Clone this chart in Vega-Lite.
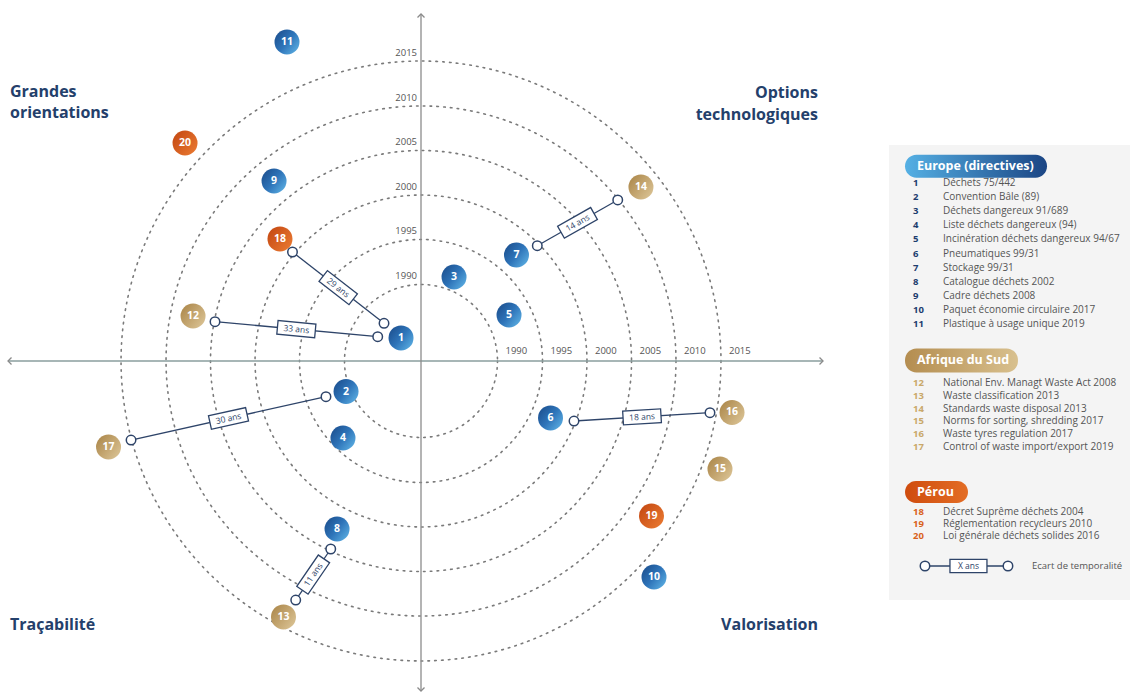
{
  "$schema": "https://vega.github.io/schema/vega-lite/v6.json",
  "width": 1130,
  "height": 693,
  "autosize": {"type": "none"},
  "padding": 0,
  "background": "white",
  "config": {
    "view": {"stroke": null},
    "font": "Open Sans",
    "axis": {"disable": true},
    "legend": {"disable": true}
  },
  "datasets": {
    "items": [
      {"n": 1, "g": "EU", "label": "Déchets 75/442", "x": -2.22, "y": 2.56},
      {"n": 2, "g": "EU", "label": "Convention Bâle (89)", "x": -8.33, "y": -3.39},
      {"n": 3, "g": "EU", "label": "Déchets dangereux 91/689", "x": 3.67, "y": 9.33},
      {"n": 4, "g": "EU", "label": "Liste déchets dangereux (94)", "x": -8.67, "y": -8.56},
      {"n": 5, "g": "EU", "label": "Incinération déchets dangereux 94/67", "x": 9.78, "y": 5.11},
      {"n": 6, "g": "EU", "label": "Pneumatiques 99/31", "x": 14.39, "y": -6.33},
      {"n": 7, "g": "EU", "label": "Stockage 99/31", "x": 10.61, "y": 11.78},
      {"n": 8, "g": "EU", "label": "Catalogue déchets 2002", "x": -9.33, "y": -18.67},
      {"n": 9, "g": "EU", "label": "Cadre déchets 2008", "x": -16.33, "y": 20.0},
      {"n": 10, "g": "EU", "label": "Paquet économie circulaire 2017", "x": 25.89, "y": -24.0},
      {"n": 11, "g": "EU", "label": "Plastique à usage unique 2019", "x": -14.89, "y": 35.44},
      {"n": 12, "g": "ZA", "label": "National Env. Managt Waste Act 2008", "x": -25.33, "y": 5.0},
      {"n": 13, "g": "ZA", "label": "Waste classification 2013", "x": -15.28, "y": -28.44},
      {"n": 14, "g": "ZA", "label": "Standards waste disposal 2013", "x": 24.44, "y": 19.33},
      {"n": 15, "g": "ZA", "label": "Norms for sorting, shredding 2017", "x": 33.22, "y": -12.0},
      {"n": 16, "g": "ZA", "label": "Waste tyres regulation 2017", "x": 34.56, "y": -5.72},
      {"n": 17, "g": "ZA", "label": "Control of waste import/export 2019", "x": -34.72, "y": -9.56},
      {"n": 18, "g": "PE", "label": "Décret Suprême déchets 2004", "x": -15.67, "y": 13.56},
      {"n": 19, "g": "PE", "label": "Réglementation recycleurs 2010", "x": 25.61, "y": -17.22},
      {"n": 20, "g": "PE", "label": "Loi générale déchets solides 2016", "x": -26.22, "y": 24.22}
    ],
    "links": [
      {"gap": "29 ans", "from": 18, "to": 1, "x1": -14.28, "y1": 12.11, "x2": -4.11, "y2": 4.19, "mx": -9.2, "my": 8.15, "angle": 37.9},
      {"gap": "33 ans", "from": 12, "to": 1, "x1": -22.89, "y1": 4.37, "x2": -4.81, "y2": 2.7, "mx": -13.85, "my": 3.54, "angle": 5.3},
      {"gap": "30 ans", "from": 17, "to": 2, "x1": -32.22, "y1": -8.78, "x2": -10.56, "y2": -3.97, "mx": -21.39, "my": -6.38, "angle": -12.5},
      {"gap": "11 ans", "from": 13, "to": 8, "x1": -13.92, "y1": -26.56, "x2": -10.03, "y2": -20.89, "mx": -11.98, "my": -23.73, "angle": -55.5},
      {"gap": "14 ans", "from": 7, "to": 14, "x1": 12.92, "y1": 12.81, "x2": 21.86, "y2": 17.89, "mx": 17.39, "my": 15.35, "angle": -29.6},
      {"gap": "18 ans", "from": 6, "to": 16, "x1": 17.0, "y1": -6.67, "x2": 32.11, "y2": -5.74, "mx": 24.56, "my": -6.21, "angle": -3.5}
    ],
    "rings": [
      {"year": 1990, "r": 8.5},
      {"year": 1995, "r": 13.5},
      {"year": 2000, "r": 18.44},
      {"year": 2005, "r": 23.39},
      {"year": 2010, "r": 28.33},
      {"year": 2015, "r": 33.33}
    ],
    "arrows": [
      {"dir": "right", "x": 44.67, "y": 0},
      {"dir": "left", "x": -45.89, "y": 0},
      {"dir": "up", "x": 0, "y": 38.56},
      {"dir": "down", "x": 0, "y": -36.67}
    ]
  },
  "resolve": {"scale": {"y": "independent"}},
  "layer": [
    {
      "layer": [
        {
          "data": {"values": [{"panel": "legend"}]},
          "mark": {"type": "rect", "fill": "#f4f4f4"},
          "encoding": {
            "x": {"datum": 52.0, "type": "quantitative", "scale": {"domain": [-46.78, 78.78], "nice": false, "zero": false}},
            "x2": {"datum": 78.78},
            "y": {"datum": 24.0, "type": "quantitative", "scale": {"domain": [-36.89, 40.11], "nice": false, "zero": false}},
            "y2": {"datum": -26.56}
          }
        },
        {
          "data": {"name": "rings"},
          "mark": {"type": "point", "shape": "circle", "filled": false, "stroke": "#7a7a7a", "strokeWidth": 1.6, "strokeDash": [1.6, 5.2], "strokeCap": "round", "opacity": 1},
          "encoding": {
            "x": {"datum": 0, "type": "quantitative", "scale": {"domain": [-46.78, 78.78], "nice": false, "zero": false}},
            "y": {"datum": 0, "type": "quantitative", "scale": {"domain": [-36.89, 40.11], "nice": false, "zero": false}},
            "size": {"field": "r", "type": "quantitative", "scale": {"type": "pow", "exponent": 2, "domain": [0, 10], "range": [0, 32400]}, "legend": null}
          }
        },
        {
          "data": {"values": [{"axis": "horizontal"}]},
          "mark": {"type": "rule", "stroke": "#8a9e9e", "strokeWidth": 1.3},
          "encoding": {
            "x": {"datum": -45.89, "type": "quantitative", "scale": {"domain": [-46.78, 78.78], "nice": false, "zero": false}},
            "x2": {"datum": 44.67},
            "y": {"datum": 0, "type": "quantitative", "scale": {"domain": [-36.89, 40.11], "nice": false, "zero": false}}
          }
        },
        {
          "data": {"values": [{"axis": "vertical"}]},
          "mark": {"type": "rule", "stroke": "#8c8c8c", "strokeWidth": 1.3},
          "encoding": {
            "x": {"datum": 0, "type": "quantitative", "scale": {"domain": [-46.78, 78.78], "nice": false, "zero": false}},
            "y": {"datum": 38.56, "type": "quantitative", "scale": {"domain": [-36.89, 40.11], "nice": false, "zero": false}},
            "y2": {"datum": -36.67}
          }
        },
        {
          "data": {"name": "arrows"},
          "mark": {"type": "point", "filled": false, "stroke": "#8a8a8a", "strokeWidth": 1.3, "size": 49, "opacity": 1},
          "encoding": {
            "x": {"field": "x", "type": "quantitative", "scale": {"domain": [-46.78, 78.78], "nice": false, "zero": false}},
            "y": {"field": "y", "type": "quantitative", "scale": {"domain": [-36.89, 40.11], "nice": false, "zero": false}},
            "shape": {"field": "dir", "type": "nominal", "scale": {"domain": ["right", "left", "up", "down"], "range": ["M-1,-1L0,0L-1,1", "M1,-1L0,0L1,1", "M-1,1L0,0L1,1", "M-1,-1L0,0L1,-1"]}, "legend": null}
          }
        },
        {
          "data": {"name": "links"},
          "mark": {"type": "rule", "stroke": "#2e4469", "strokeWidth": 1.3},
          "encoding": {
            "x": {"field": "x1", "type": "quantitative", "scale": {"domain": [-46.78, 78.78], "nice": false, "zero": false}},
            "y": {"field": "y1", "type": "quantitative", "scale": {"domain": [-36.89, 40.11], "nice": false, "zero": false}},
            "x2": {"field": "x2"},
            "y2": {"field": "y2"}
          }
        },
        {
          "data": {"name": "links"},
          "mark": {"type": "point", "shape": "circle", "filled": true, "fill": "white", "stroke": "#2e4469", "strokeWidth": 1.5, "size": 90, "opacity": 1},
          "encoding": {
            "x": {"field": "x1", "type": "quantitative", "scale": {"domain": [-46.78, 78.78], "nice": false, "zero": false}},
            "y": {"field": "y1", "type": "quantitative", "scale": {"domain": [-36.89, 40.11], "nice": false, "zero": false}}
          }
        },
        {
          "data": {"name": "links"},
          "mark": {"type": "point", "shape": "circle", "filled": true, "fill": "white", "stroke": "#2e4469", "strokeWidth": 1.5, "size": 90, "opacity": 1},
          "encoding": {
            "x": {"field": "x2", "type": "quantitative", "scale": {"domain": [-46.78, 78.78], "nice": false, "zero": false}},
            "y": {"field": "y2", "type": "quantitative", "scale": {"domain": [-36.89, 40.11], "nice": false, "zero": false}}
          }
        },
        {
          "data": {"name": "links"},
          "mark": {"type": "point", "shape": "M-1,-0.36L1,-0.36L1,0.36L-1,0.36Z", "filled": true, "fill": "white", "stroke": "#2e4469", "strokeWidth": 1.3, "size": 1444, "opacity": 1},
          "encoding": {
            "x": {"field": "mx", "type": "quantitative", "scale": {"domain": [-46.78, 78.78], "nice": false, "zero": false}},
            "y": {"field": "my", "type": "quantitative", "scale": {"domain": [-36.89, 40.11], "nice": false, "zero": false}},
            "angle": {"field": "angle", "type": "quantitative", "scale": null}
          }
        },
        {
          "data": {"name": "links"},
          "mark": {"type": "text", "fontSize": 8.5, "fill": "#2e4469", "align": "center", "baseline": "middle"},
          "encoding": {
            "x": {"field": "mx", "type": "quantitative", "scale": {"domain": [-46.78, 78.78], "nice": false, "zero": false}},
            "y": {"field": "my", "type": "quantitative", "scale": {"domain": [-36.89, 40.11], "nice": false, "zero": false}},
            "angle": {"field": "angle", "type": "quantitative", "scale": null},
            "text": {"field": "gap", "type": "nominal"}
          }
        },
        {
          "data": {"name": "items"},
          "transform": [{"filter": "datum.g === 'EU'"}],
          "mark": {"type": "point", "shape": "circle", "filled": true, "size": 625, "opacity": 1, "strokeWidth": 0,
            "fill": {"gradient": "linear", "x1": 0, "y1": 0.1, "x2": 1, "y2": 0.9, "stops": [{"offset": 0, "color": "#1b4d8c"}, {"offset": 0.5, "color": "#2e74b9"}, {"offset": 1, "color": "#5fb3e5"}]}},
          "encoding": {
            "x": {"field": "x", "type": "quantitative", "scale": {"domain": [-46.78, 78.78], "nice": false, "zero": false}},
            "y": {"field": "y", "type": "quantitative", "scale": {"domain": [-36.89, 40.11], "nice": false, "zero": false}}
          }
        },
        {
          "data": {"name": "items"},
          "transform": [{"filter": "datum.g === 'ZA'"}],
          "mark": {"type": "point", "shape": "circle", "filled": true, "size": 625, "opacity": 1, "strokeWidth": 0,
            "fill": {"gradient": "linear", "x1": 0, "y1": 0.1, "x2": 1, "y2": 0.9, "stops": [{"offset": 0, "color": "#ab8649"}, {"offset": 1, "color": "#dcc597"}]}},
          "encoding": {
            "x": {"field": "x", "type": "quantitative", "scale": {"domain": [-46.78, 78.78], "nice": false, "zero": false}},
            "y": {"field": "y", "type": "quantitative", "scale": {"domain": [-36.89, 40.11], "nice": false, "zero": false}}
          }
        },
        {
          "data": {"name": "items"},
          "transform": [{"filter": "datum.g === 'PE'"}],
          "mark": {"type": "point", "shape": "circle", "filled": true, "size": 625, "opacity": 1, "strokeWidth": 0,
            "fill": {"gradient": "linear", "x1": 0, "y1": 0.1, "x2": 1, "y2": 0.9, "stops": [{"offset": 0, "color": "#c44812"}, {"offset": 1, "color": "#ea7a32"}]}},
          "encoding": {
            "x": {"field": "x", "type": "quantitative", "scale": {"domain": [-46.78, 78.78], "nice": false, "zero": false}},
            "y": {"field": "y", "type": "quantitative", "scale": {"domain": [-36.89, 40.11], "nice": false, "zero": false}}
          }
        },
        {
          "data": {"name": "items"},
          "mark": {"type": "text", "fontSize": 10.5, "fontWeight": "bold", "fill": "white", "align": "center", "baseline": "middle"},
          "encoding": {
            "x": {"field": "x", "type": "quantitative", "scale": {"domain": [-46.78, 78.78], "nice": false, "zero": false}},
            "y": {"field": "y", "type": "quantitative", "scale": {"domain": [-36.89, 40.11], "nice": false, "zero": false}},
            "text": {"field": "n", "type": "nominal"}
          }
        },
        {
          "data": {"name": "rings"},
          "mark": {"type": "text", "fontSize": 9.5, "fill": "#555555", "align": "right", "baseline": "bottom", "dx": -4, "dy": -3},
          "encoding": {
            "x": {"datum": 0, "type": "quantitative", "scale": {"domain": [-46.78, 78.78], "nice": false, "zero": false}},
            "y": {"field": "r", "type": "quantitative", "scale": {"domain": [-36.89, 40.11], "nice": false, "zero": false}},
            "text": {"field": "year", "type": "nominal"}
          }
        },
        {
          "data": {"name": "rings"},
          "mark": {"type": "text", "fontSize": 9.5, "fill": "#555555", "align": "left", "baseline": "bottom", "dx": 8, "dy": -5},
          "encoding": {
            "x": {"field": "r", "type": "quantitative", "scale": {"domain": [-46.78, 78.78], "nice": false, "zero": false}},
            "y": {"datum": 0, "type": "quantitative", "scale": {"domain": [-36.89, 40.11], "nice": false, "zero": false}},
            "text": {"field": "year", "type": "nominal"}
          }
        },
        {
          "data": {"values": [{"label": ["Grandes", "orientations"]}]},
          "mark": {"type": "text", "fontSize": 16, "fontWeight": "bold", "fill": "#24406b", "align": "left", "baseline": "middle", "lineHeight": 21},
          "encoding": {
            "x": {"datum": -45.67, "type": "quantitative", "scale": {"domain": [-46.78, 78.78], "nice": false, "zero": false}},
            "y": {"datum": 29.89, "type": "quantitative", "scale": {"domain": [-36.89, 40.11], "nice": false, "zero": false}},
            "text": {"field": "label"}
          }
        },
        {
          "data": {"values": [{"label": ["Options", "technologiques"]}]},
          "mark": {"type": "text", "fontSize": 16, "fontWeight": "bold", "fill": "#24406b", "align": "right", "baseline": "middle", "lineHeight": 22},
          "encoding": {
            "x": {"datum": 44.11, "type": "quantitative", "scale": {"domain": [-46.78, 78.78], "nice": false, "zero": false}},
            "y": {"datum": 29.78, "type": "quantitative", "scale": {"domain": [-36.89, 40.11], "nice": false, "zero": false}},
            "text": {"field": "label"}
          }
        },
        {
          "data": {"values": [{"label": "Traçabilité"}]},
          "mark": {"type": "text", "fontSize": 16, "fontWeight": "bold", "fill": "#24406b", "align": "left", "baseline": "middle"},
          "encoding": {
            "x": {"datum": -45.67, "type": "quantitative", "scale": {"domain": [-46.78, 78.78], "nice": false, "zero": false}},
            "y": {"datum": -29.33, "type": "quantitative", "scale": {"domain": [-36.89, 40.11], "nice": false, "zero": false}},
            "text": {"field": "label"}
          }
        },
        {
          "data": {"values": [{"label": "Valorisation"}]},
          "mark": {"type": "text", "fontSize": 16, "fontWeight": "bold", "fill": "#24406b", "align": "right", "baseline": "middle"},
          "encoding": {
            "x": {"datum": 44.11, "type": "quantitative", "scale": {"domain": [-46.78, 78.78], "nice": false, "zero": false}},
            "y": {"datum": -29.33, "type": "quantitative", "scale": {"domain": [-36.89, 40.11], "nice": false, "zero": false}},
            "text": {"field": "label"}
          }
        }
      ]
    },
    {
      "layer": [
        {
          "data": {"values": [{"group": "Europe (directives)"}]},
          "mark": {"type": "rect", "cornerRadius": 11.5,
            "fill": {"gradient": "linear", "x1": 0, "y1": 0, "x2": 1, "y2": 0, "stops": [{"offset": 0, "color": "#55b0e4"}, {"offset": 1, "color": "#1b4584"}]}},
          "encoding": {
            "x": {"datum": 53.78, "type": "quantitative", "scale": {"domain": [-46.78, 78.78], "nice": false, "zero": false}},
            "x2": {"datum": 69.56},
            "y": {"datum": -1.0, "type": "quantitative", "scale": {"domain": [1, 11], "range": [183, 324], "nice": false, "zero": false}},
            "y2": {"datum": 0.62}
          }
        },
        {
          "data": {"values": [{"group": "Europe (directives)"}]},
          "mark": {"type": "text", "fontSize": 12.5, "fontWeight": "bold", "fill": "white", "align": "left", "baseline": "middle"},
          "encoding": {
            "x": {"datum": 55.11, "type": "quantitative", "scale": {"domain": [-46.78, 78.78], "nice": false, "zero": false}},
            "y": {"datum": -0.2, "type": "quantitative", "scale": {"domain": [1, 11], "range": [183, 324], "nice": false, "zero": false}},
            "text": {"field": "group"}
          }
        },
        {
          "data": {"name": "items"},
          "transform": [{"filter": "datum.g === 'EU'"}],
          "mark": {"type": "text", "fontSize": 9.5, "fontWeight": "bold", "fill": "#1d3d6e", "align": "left", "baseline": "middle"},
          "encoding": {
            "x": {"datum": 54.67, "type": "quantitative", "scale": {"domain": [-46.78, 78.78], "nice": false, "zero": false}},
            "y": {"field": "n", "type": "quantitative", "scale": {"domain": [1, 11], "range": [183, 324], "nice": false, "zero": false}},
            "text": {"field": "n", "type": "nominal"}
          }
        },
        {
          "data": {"name": "items"},
          "transform": [{"filter": "datum.g === 'EU'"}],
          "mark": {"type": "text", "fontSize": 10, "fill": "#555555", "align": "left", "baseline": "middle"},
          "encoding": {
            "x": {"datum": 58.0, "type": "quantitative", "scale": {"domain": [-46.78, 78.78], "nice": false, "zero": false}},
            "y": {"field": "n", "type": "quantitative", "scale": {"domain": [1, 11], "range": [183, 324], "nice": false, "zero": false}},
            "text": {"field": "label", "type": "nominal"}
          }
        }
      ]
    },
    {
      "layer": [
        {
          "data": {"values": [{"group": "Afrique du Sud"}]},
          "mark": {"type": "rect", "cornerRadius": 11.5,
            "fill": {"gradient": "linear", "x1": 0, "y1": 0, "x2": 1, "y2": 0, "stops": [{"offset": 0, "color": "#b48d50"}, {"offset": 1, "color": "#d8c08e"}]}},
          "encoding": {
            "x": {"datum": 53.78, "type": "quantitative", "scale": {"domain": [-46.78, 78.78], "nice": false, "zero": false}},
            "x2": {"datum": 66.33},
            "y": {"datum": 9.3, "type": "quantitative", "scale": {"domain": [12, 17], "range": [383, 447], "nice": false, "zero": false}},
            "y2": {"datum": 11.18}
          }
        },
        {
          "data": {"values": [{"group": "Afrique du Sud"}]},
          "mark": {"type": "text", "fontSize": 12.5, "fontWeight": "bold", "fill": "white", "align": "left", "baseline": "middle"},
          "encoding": {
            "x": {"datum": 55.11, "type": "quantitative", "scale": {"domain": [-46.78, 78.78], "nice": false, "zero": false}},
            "y": {"datum": 10.24, "type": "quantitative", "scale": {"domain": [12, 17], "range": [383, 447], "nice": false, "zero": false}},
            "text": {"field": "group"}
          }
        },
        {
          "data": {"name": "items"},
          "transform": [{"filter": "datum.g === 'ZA'"}],
          "mark": {"type": "text", "fontSize": 9.5, "fontWeight": "bold", "fill": "#c9a86a", "align": "left", "baseline": "middle"},
          "encoding": {
            "x": {"datum": 54.67, "type": "quantitative", "scale": {"domain": [-46.78, 78.78], "nice": false, "zero": false}},
            "y": {"field": "n", "type": "quantitative", "scale": {"domain": [12, 17], "range": [383, 447], "nice": false, "zero": false}},
            "text": {"field": "n", "type": "nominal"}
          }
        },
        {
          "data": {"name": "items"},
          "transform": [{"filter": "datum.g === 'ZA'"}],
          "mark": {"type": "text", "fontSize": 10, "fill": "#555555", "align": "left", "baseline": "middle"},
          "encoding": {
            "x": {"datum": 58.0, "type": "quantitative", "scale": {"domain": [-46.78, 78.78], "nice": false, "zero": false}},
            "y": {"field": "n", "type": "quantitative", "scale": {"domain": [12, 17], "range": [383, 447], "nice": false, "zero": false}},
            "text": {"field": "label", "type": "nominal"}
          }
        }
      ]
    },
    {
      "layer": [
        {
          "data": {"values": [{"group": "Pérou"}]},
          "mark": {"type": "rect", "cornerRadius": 11,
            "fill": {"gradient": "linear", "x1": 0, "y1": 0, "x2": 1, "y2": 0, "stops": [{"offset": 0, "color": "#cf4c0e"}, {"offset": 1, "color": "#e36d25"}]}},
          "encoding": {
            "x": {"datum": 53.78, "type": "quantitative", "scale": {"domain": [-46.78, 78.78], "nice": false, "zero": false}},
            "x2": {"datum": 60.78},
            "y": {"datum": 15.42, "type": "quantitative", "scale": {"domain": [18, 20], "range": [512, 536], "nice": false, "zero": false}},
            "y2": {"datum": 17.25}
          }
        },
        {
          "data": {"values": [{"group": "Pérou"}]},
          "mark": {"type": "text", "fontSize": 12.5, "fontWeight": "bold", "fill": "white", "align": "left", "baseline": "middle"},
          "encoding": {
            "x": {"datum": 55.11, "type": "quantitative", "scale": {"domain": [-46.78, 78.78], "nice": false, "zero": false}},
            "y": {"datum": 16.33, "type": "quantitative", "scale": {"domain": [18, 20], "range": [512, 536], "nice": false, "zero": false}},
            "text": {"field": "group"}
          }
        },
        {
          "data": {"name": "items"},
          "transform": [{"filter": "datum.g === 'PE'"}],
          "mark": {"type": "text", "fontSize": 9.5, "fontWeight": "bold", "fill": "#d9621c", "align": "left", "baseline": "middle"},
          "encoding": {
            "x": {"datum": 54.67, "type": "quantitative", "scale": {"domain": [-46.78, 78.78], "nice": false, "zero": false}},
            "y": {"field": "n", "type": "quantitative", "scale": {"domain": [18, 20], "range": [512, 536], "nice": false, "zero": false}},
            "text": {"field": "n", "type": "nominal"}
          }
        },
        {
          "data": {"name": "items"},
          "transform": [{"filter": "datum.g === 'PE'"}],
          "mark": {"type": "text", "fontSize": 10, "fill": "#555555", "align": "left", "baseline": "middle"},
          "encoding": {
            "x": {"datum": 58.0, "type": "quantitative", "scale": {"domain": [-46.78, 78.78], "nice": false, "zero": false}},
            "y": {"field": "n", "type": "quantitative", "scale": {"domain": [18, 20], "range": [512, 536], "nice": false, "zero": false}},
            "text": {"field": "label", "type": "nominal"}
          }
        },
        {
          "data": {"values": [{"key": "Ecart de temporalité"}]},
          "mark": {"type": "rule", "stroke": "#2e4469", "strokeWidth": 1.3},
          "encoding": {
            "x": {"datum": 56.0, "type": "quantitative", "scale": {"domain": [-46.78, 78.78], "nice": false, "zero": false}},
            "x2": {"datum": 65.22},
            "y": {"datum": 22.5, "type": "quantitative", "scale": {"domain": [18, 20], "range": [512, 536], "nice": false, "zero": false}}
          }
        },
        {
          "data": {"values": [{"end": "start"}]},
          "mark": {"type": "point", "shape": "circle", "filled": true, "fill": "white", "stroke": "#2e4469", "strokeWidth": 1.5, "size": 90, "opacity": 1},
          "encoding": {
            "x": {"datum": 56.0, "type": "quantitative", "scale": {"domain": [-46.78, 78.78], "nice": false, "zero": false}},
            "y": {"datum": 22.5, "type": "quantitative", "scale": {"domain": [18, 20], "range": [512, 536], "nice": false, "zero": false}}
          }
        },
        {
          "data": {"values": [{"end": "end"}]},
          "mark": {"type": "point", "shape": "circle", "filled": true, "fill": "white", "stroke": "#2e4469", "strokeWidth": 1.5, "size": 90, "opacity": 1},
          "encoding": {
            "x": {"datum": 65.22, "type": "quantitative", "scale": {"domain": [-46.78, 78.78], "nice": false, "zero": false}},
            "y": {"datum": 22.5, "type": "quantitative", "scale": {"domain": [18, 20], "range": [512, 536], "nice": false, "zero": false}}
          }
        },
        {
          "data": {"values": [{"gap": "X ans"}]},
          "mark": {"type": "point", "shape": "M-1,-0.36L1,-0.36L1,0.36L-1,0.36Z", "filled": true, "fill": "white", "stroke": "#2e4469", "strokeWidth": 1.3, "size": 1369, "opacity": 1},
          "encoding": {
            "x": {"datum": 60.83, "type": "quantitative", "scale": {"domain": [-46.78, 78.78], "nice": false, "zero": false}},
            "y": {"datum": 22.5, "type": "quantitative", "scale": {"domain": [18, 20], "range": [512, 536], "nice": false, "zero": false}}
          }
        },
        {
          "data": {"values": [{"gap": "X ans"}]},
          "mark": {"type": "text", "fontSize": 8.5, "fill": "#2e4469", "align": "center", "baseline": "middle"},
          "encoding": {
            "x": {"datum": 60.83, "type": "quantitative", "scale": {"domain": [-46.78, 78.78], "nice": false, "zero": false}},
            "y": {"datum": 22.5, "type": "quantitative", "scale": {"domain": [18, 20], "range": [512, 536], "nice": false, "zero": false}},
            "text": {"field": "gap"}
          }
        },
        {
          "data": {"values": [{"key": "Ecart de temporalité"}]},
          "mark": {"type": "text", "fontSize": 9.5, "fill": "#555555", "align": "left", "baseline": "middle"},
          "encoding": {
            "x": {"datum": 67.89, "type": "quantitative", "scale": {"domain": [-46.78, 78.78], "nice": false, "zero": false}},
            "y": {"datum": 22.5, "type": "quantitative", "scale": {"domain": [18, 20], "range": [512, 536], "nice": false, "zero": false}},
            "text": {"field": "key"}
          }
        }
      ]
    }
  ]
}
